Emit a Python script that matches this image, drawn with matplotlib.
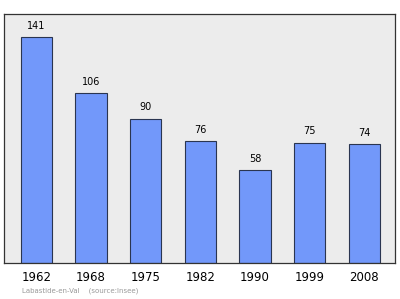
import matplotlib.pyplot as plt

annees = ['1962', '1968', '1975', '1982', '1990', '1999', '2008']
population = [141, 106, 90, 76, 58, 75, 74]

fig = plt.figure(figsize=(4, 2.99), dpi=100)
ax = fig.add_axes([0.01, 0.12, 0.9775, 0.833])
ax.set_facecolor('#ececec')

pos = range(len(annees))
ax.bar(pos, population, width=0.57, color='#7298fa', edgecolor='#2a3550', linewidth=0.8, zorder=2)
for x, v in zip(pos, population):
    ax.text(x, v + 4, str(v), ha='center', va='bottom', fontsize=7)

ax.set_xlim(-0.59, 6.56)
ax.set_ylim(0, 155.3)
ax.set_yticks([])
ax.set_xticks(list(pos))
ax.set_xticklabels(annees, fontsize=8.5)
ax.tick_params(axis='x', length=0, pad=6)
for s in ax.spines.values():
    s.set_color('#333333')
    s.set_linewidth(0.9)

fig.text(0.055, 0.022, 'Labastide-en-Val    (source:Insee)', fontsize=5, color='#999999')

fig.savefig('out.png', dpi=100)
